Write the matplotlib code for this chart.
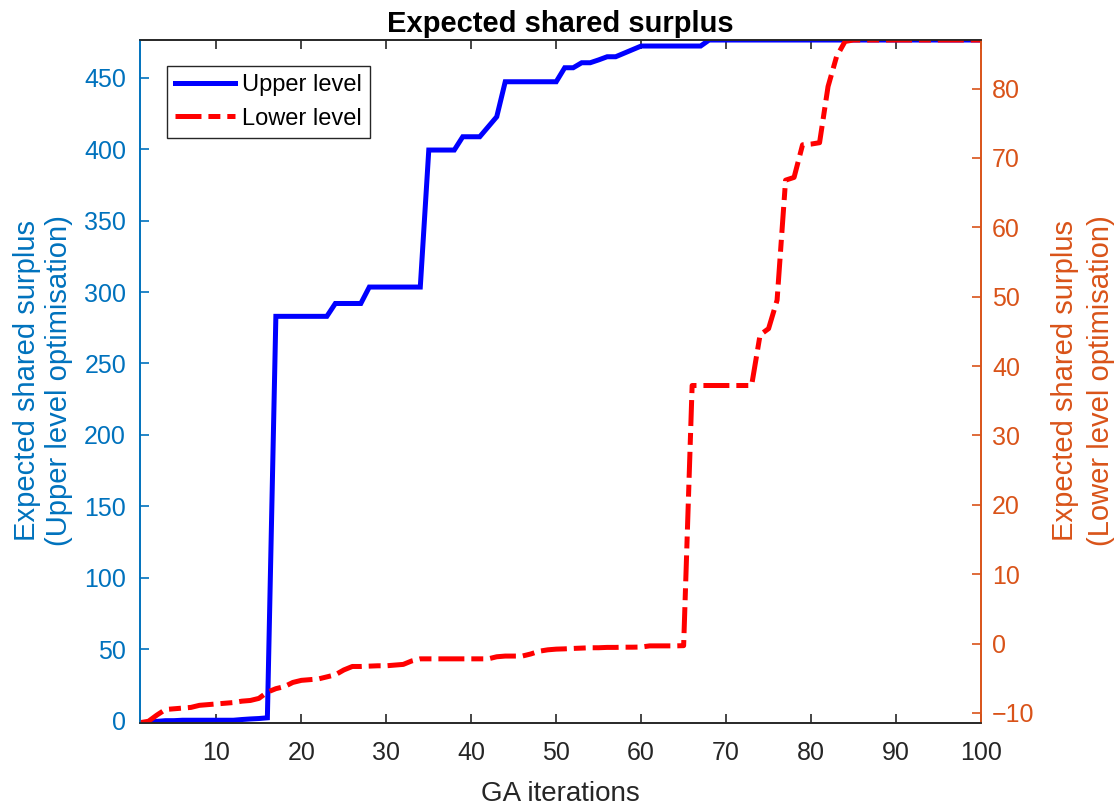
import numpy as np
import matplotlib
matplotlib.use('Agg')
import matplotlib.pyplot as plt

plt.rcParams['font.family'] = ['Liberation Sans', 'DejaVu Sans']
plt.rcParams['lines.scale_dashes'] = False

# GA iteration index
iterations = np.arange(1, 101)

# best shared surplus found by the upper level optimisation
upper = [-1.4, -1.2, -0.5, 0.0, 0.0, 0.3, 0.3, 0.3, 0.3, 0.3,
         0.3, 0.3, 0.8, 1.2, 1.5, 2.0, 283, 283, 283, 283,
         283, 283, 283, 292, 292, 292, 292, 303.5, 303.5, 303.5,
         303.5, 303.5, 303.5, 303.5, 399.4, 399.4, 399.4, 399.4, 408.7, 408.7,
         408.7, 415.7, 422.7, 447.2, 447.2, 447.2, 447.2, 447.2, 447.2, 447.2,
         457, 457, 460.5, 460.5, 462.5, 464.7, 464.7, 467.2, 469.7, 472.2,
         472.2, 472.2, 472.2, 472.2, 472.2, 472.2, 472.2] + [476.4] * 33

# best shared surplus found by the lower level optimisation
lower = [-11.4, -11.2, -10.3, -9.5, -9.4, -9.3, -9.2, -8.9, -8.8, -8.7,
         -8.6, -8.5, -8.3, -8.2, -7.9, -7.0, -6.5, -6.2, -5.6, -5.3,
         -5.2, -5.1, -4.8, -4.5, -3.8, -3.3, -3.3, -3.25, -3.2, -3.2,
         -3.1, -3.0, -2.5, -2.2, -2.2, -2.2, -2.2, -2.2, -2.2, -2.2,
         -2.2, -2.2, -1.9, -1.8, -1.8, -1.8, -1.5, -1.1, -0.9, -0.8,
         -0.76, -0.7, -0.65, -0.6, -0.6, -0.55, -0.55, -0.52, -0.52, -0.5,
         -0.33, -0.33, -0.33, -0.33, -0.3, 37.2, 37.2, 37.2, 37.2, 37.2,
         37.2, 37.2, 37.2, 44.5, 45.4, 49.5, 66.8, 67.2, 71.9, 72.0,
         72.2, 80.3, 84.6, 86.8] + [87.0] * 16

left_col = '#0072BD'
right_col = '#D95319'
axis_col = '#262626'

fig = plt.figure(figsize=(11.16, 8.07), dpi=100)
ax1 = fig.add_axes([0.1254, 0.1045, 0.7536, 0.8459])
ax2 = ax1.twinx()

l1, = ax1.plot(iterations, upper, color='#0000FF', lw=3.6, solid_joinstyle='miter',
               label='Upper level')
l2, = ax2.plot(iterations, lower, color='#FF0000', lw=3.6,
               dashes=(18.7, 5, 8.6, 5), dash_capstyle='butt',
               label='Lower level')

ax1.set_xlim(1, 100)
ax1.set_ylim(min(upper), max(upper))
ax2.set_ylim(min(lower), max(lower))
ax1.set_xticks(np.arange(10, 101, 10))
ax1.set_yticks(np.arange(0, 451, 50))
ax2.set_yticks(np.arange(-10, 81, 10))

fs = 18
ax1.tick_params(axis='x', direction='in', length=6.3, width=1.2, colors=axis_col,
                labelsize=fs, top=True, pad=13.5)
ax1.tick_params(axis='y', direction='in', length=6.3, width=1.2, colors=left_col,
                labelsize=fs, pad=10)
ax2.tick_params(axis='y', direction='in', length=6.3, width=1.2, colors=right_col,
                labelsize=fs, pad=8)

for ax in (ax1, ax2):
    for s in ax.spines.values():
        s.set_linewidth(1.2)
    ax.spines['top'].set_color(axis_col)
    ax.spines['bottom'].set_color(axis_col)
    ax.spines['left'].set_color(left_col)
    ax.spines['right'].set_color(right_col)

ax1.set_xlabel('GA iterations', fontsize=20, color=axis_col, labelpad=11)
fig.text(43 / 1116, 0.528, 'Expected shared surplus\n(Upper level optimisation)',
         fontsize=21, color=left_col, rotation=90, ha='center', va='center',
         multialignment='center', linespacing=1.2)
fig.text(1083 / 1116, 0.528, 'Expected shared surplus\n(Lower level optimisation)',
         fontsize=21, color=right_col, rotation=90, ha='center', va='center',
         multialignment='center', linespacing=1.35)
ax1.set_title('Expected shared surplus', fontsize=21, fontweight='bold', pad=6)

leg = ax2.legend(handles=[l1, l2], loc='upper left', bbox_to_anchor=(0.1494, 0.9186),
                 bbox_transform=fig.transFigure, borderaxespad=0, fontsize=17,
                 fancybox=False, handlelength=2.55, handletextpad=0.3,
                 borderpad=0.35, labelspacing=0.5, framealpha=1, edgecolor=axis_col)
leg.get_frame().set_linewidth(1.0)

fig.savefig('out.png', dpi=100)
